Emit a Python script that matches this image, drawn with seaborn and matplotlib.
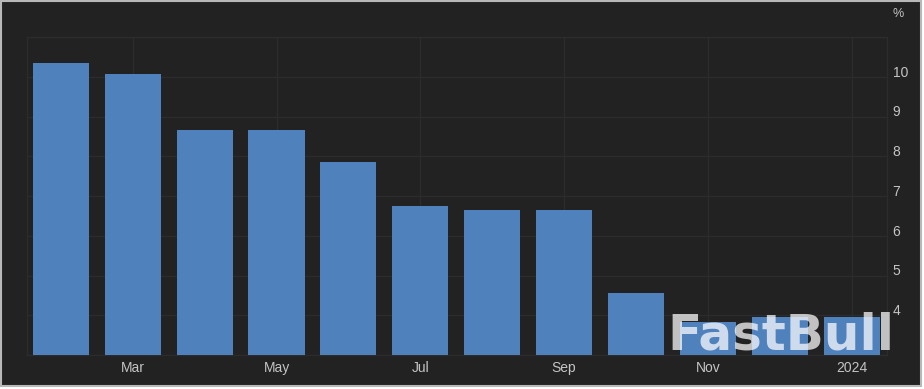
import matplotlib
matplotlib.use("Agg")
import matplotlib.pyplot as plt
from matplotlib.patches import Rectangle
import seaborn as sns

months = ["Feb", "Mar", "Apr", "May", "Jun", "Jul", "Aug", "Sep", "Oct", "Nov", "Dec", "Jan"]
values = [10.35, 10.07, 8.66, 8.66, 7.86, 6.75, 6.64, 6.64, 4.55, 3.84, 3.96, 3.95]
tick_idx = [1, 3, 5, 7, 9, 11]
tick_labels = ["Mar", "May", "Jul", "Sep", "Nov", "2024"]
y_ticks = [4, 5, 6, 7, 8, 9, 10]

W, H = 924, 389
BG = "#222222"
GRID = "#2c2c2c"
TXT = "#c4c4c4"
BAR = "#4f81bd"

sns.set_theme(style="dark")
plt.rcParams["font.family"] = ["Liberation Sans", "DejaVu Sans"]

fig = plt.figure(figsize=(W / 100, H / 100), dpi=100)
fig.patch.set_facecolor("white")
fig.patches.append(Rectangle((0.5 / W, 3.5 / H), 920 / W, 385 / H, transform=fig.transFigure,
                             facecolor=BG, edgecolor="#b8b8b8", linewidth=1.5, zorder=-10))

ax = fig.add_axes([27 / W, 1 - 355 / H, (887 - 27) / W, (355 - 37) / H])
ax.set_facecolor(BG)
sns.barplot(x=months, y=values, color=BAR, width=0.78, saturation=1, ax=ax, zorder=3)
for p in ax.patches:
    p.set_edgecolor("none")

ax.set_ylim(3, 11)
ax.set_xlim(-0.47, 11.49)
ax.set_yticks(range(3, 12))
ax.set_yticklabels([])
ax.set_xticks(tick_idx)
ax.set_xticklabels(tick_labels, color=TXT, fontsize=10)
ax.tick_params(axis="x", length=0, pad=4)
ax.tick_params(axis="y", length=0)
ax.grid(True, color=GRID, linewidth=1, zorder=0)
ax.set_axisbelow(True)
ax.set_xlabel("")
ax.set_ylabel("")
for s in ax.spines.values():
    s.set_color(GRID)
    s.set_linewidth(1)

for v in y_ticks:
    ax.annotate(str(v), xy=(1, v), xycoords=("axes fraction", "data"), xytext=(4, 3),
                textcoords="offset points", ha="left", va="center", color=TXT, fontsize=10,
                annotation_clip=False)
fig.text(898 / W, 1 - 14 / H, "%", ha="center", va="center", color=TXT, fontsize=9)

fig.text(667 / W, 1 - 336 / H, "FastBull", ha="left", va="center", color="white", alpha=0.72,
         fontsize=36, fontweight="bold", family=["DejaVu Sans"], zorder=20)

fig.savefig("out.png", dpi=100, facecolor=fig.get_facecolor())
